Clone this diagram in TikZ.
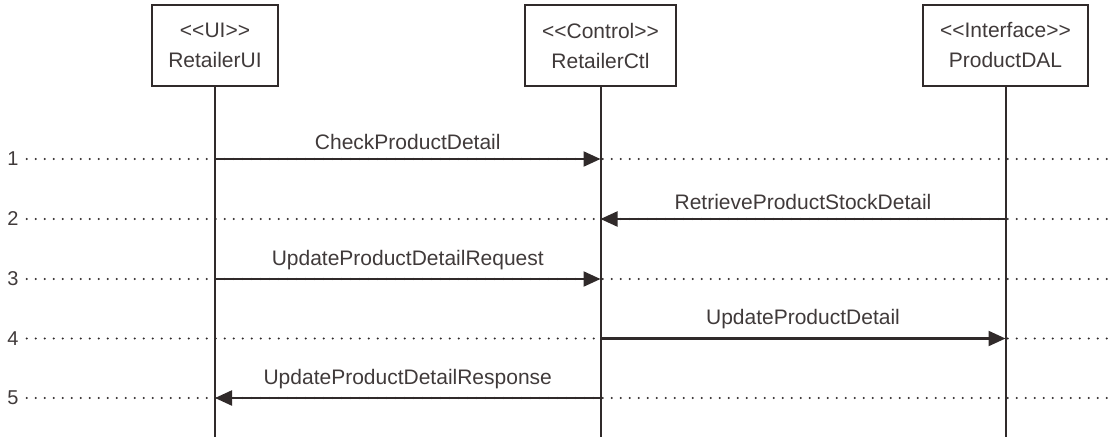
\documentclass[tikz,border=0pt]{standalone}
\usepackage{fontspec}
\setmainfont{Liberation Sans}
\usetikzlibrary{arrows.meta}
\definecolor{ink}{HTML}{302A2A}
\definecolor{txt}{HTML}{403A3A}
\newcommand\stype[1]{<{}<#1>{}>}
\tikzset{
  head/.style={draw=ink, line width=2.2pt, text=txt, minimum height=81pt, align=center, font=\fontsize{21}{30}\selectfont},
  life/.style={draw=ink, line width=2pt},
  msg/.style={draw=ink, line width=2.2pt, -{Triangle[length=17pt,width=15pt]}},
  dots/.style={draw=ink, line width=2.4pt, line cap=round, dash pattern=on 0pt off 9pt},
  lbl/.style={text=txt, font=\fontsize{21}{24}\selectfont, above=5pt},
  num/.style={text=txt, font=\fontsize{20}{22}\selectfont, inner sep=2pt}
}
\begin{document}
\begin{tikzpicture}[x=1pt,y=-1pt]
\useasboundingbox (0,0) rectangle (1112,437);

% lifeline heads
\node[head, minimum width=126pt] (ui) at (215,45.5) {\stype{UI}\\RetailerUI};
\node[head, minimum width=151pt] (ctl) at (600.5,45.5) {\stype{Control}\\RetailerCtl};
\node[head, minimum width=165pt] (dal) at (1005.5,45.5) {\stype{Interface}\\ProductDAL};

\coordinate (bot) at (0,437);
\coordinate (rend) at (1112,0);

% rows
\foreach \i/\y in {1/159,2/219,3/279,4/338.5,5/398} {
  \node[num] (n\i) at (13,\y) {\i};
  \draw[dots] ([xshift=6pt]n\i.east) -- (n\i -| rend);
}

% lifelines
\foreach \h in {ui,ctl,dal}
  \draw[life] (\h.south) -- (\h.south |- bot);

% messages
\draw[msg] (ui |- n1) -- node[lbl]{CheckProductDetail} (ctl |- n1);
\draw[msg] (dal |- n2) -- node[lbl]{RetrieveProductStockDetail} (ctl |- n2);
\draw[msg] (ui |- n3) -- node[lbl]{UpdateProductDetailRequest} (ctl |- n3);
\draw[msg] (ctl |- n4) -- node[lbl]{UpdateProductDetail} (dal |- n4);
\draw[msg] (ctl |- n5) -- node[lbl]{UpdateProductDetailResponse} (ui |- n5);

\end{tikzpicture}
\end{document}
